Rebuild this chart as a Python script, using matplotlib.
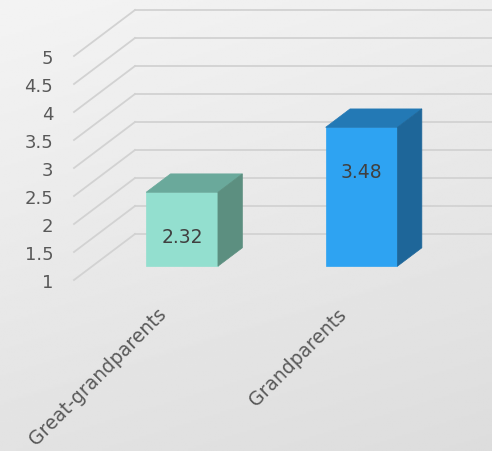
import numpy as np
import matplotlib
matplotlib.use("Agg")
import matplotlib.pyplot as plt
from matplotlib.patches import Polygon

categories = ["Great-grandparents", "Grandparents"]
values = [2.32, 3.48]
yticks = [1, 1.5, 2, 2.5, 3, 3.5, 4, 4.5, 5]
ytick_labels = ["1", "1.5", "2", "2.5", "3", "3.5", "4", "4.5", "5"]

front_colors = ["#93dfcf", "#2ea3f2"]
top_colors = ["#6aa99b", "#2379b5"]
side_colors = ["#5c8f80", "#1e6699"]

W, H, DPI = 492, 452, 100
fig = plt.figure(figsize=(W / DPI, H / DPI), dpi=DPI)

# background gradient
bg = fig.add_axes([0, 0, 1, 1], zorder=-10)
yy, xx = np.mgrid[0:1:200j, 0:1:200j]
grad = 0.955 - 0.09 * (0.75 * yy + 0.25 * xx)
bg.imshow(grad, cmap="gray", vmin=0, vmax=1, aspect="auto", extent=[0, 1, 0, 1])
bg.axis("off")

# front plane in pixels
left_px, right_px = 74, 433
top_px, bot_px = 57, 281
ax = fig.add_axes([left_px / W, 1 - bot_px / H, (right_px - left_px) / W, (bot_px - top_px) / H])
ax.patch.set_alpha(0)
xlim = (-0.5, len(categories) - 0.5)
ylim = (1, 5)
ax.set_xlim(*xlim)
ax.set_ylim(*ylim)
for s in ax.spines.values():
    s.set_visible(False)

# depth offsets in data units
DX = 61 * (xlim[1] - xlim[0]) / (right_px - left_px)
DY = 46 * (ylim[1] - ylim[0]) / (bot_px - top_px)

grid_c = "#d2d2d2"
for v in yticks:
    ax.plot([xlim[0], xlim[0] + DX], [v, v + DY], color=grid_c, lw=1.3, clip_on=False, zorder=1)
    ax.plot([xlim[0] + DX, xlim[1] + DX + 0.2], [v + DY, v + DY], color=grid_c, lw=1.3, clip_on=False, zorder=1)

f0, f1 = 0.3, 0.7
hw = 0.2
for i, v in enumerate(values):
    x0, x1 = i - hw, i + hw
    b = ylim[0]
    o0x, o0y = f0 * DX, f0 * DY
    o1x, o1y = f1 * DX, f1 * DY
    front = Polygon([(x0 + o0x, b + o0y), (x1 + o0x, b + o0y), (x1 + o0x, v + o0y), (x0 + o0x, v + o0y)],
                    closed=True, fc=front_colors[i], ec=front_colors[i], lw=0.5, zorder=3, clip_on=False)
    top = Polygon([(x0 + o0x, v + o0y), (x1 + o0x, v + o0y), (x1 + o1x, v + o1y), (x0 + o1x, v + o1y)],
                  closed=True, fc=top_colors[i], ec=top_colors[i], lw=0.5, zorder=3, clip_on=False)
    side = Polygon([(x1 + o0x, b + o0y), (x1 + o1x, b + o1y), (x1 + o1x, v + o1y), (x1 + o0x, v + o0y)],
                   closed=True, fc=side_colors[i], ec=side_colors[i], lw=0.5, zorder=3, clip_on=False)
    for p in (front, top, side):
        ax.add_patch(p)
    ax.annotate(f"{v:.2f}", xy=(i + o0x, v + o0y), xytext=(0, -44 * 72 / DPI),
                textcoords="offset points", ha="center", va="center",
                fontsize=13.5, color="#404040", zorder=5)

ax.set_yticks(yticks)
ax.set_yticklabels(ytick_labels)
ax.set_xticks(range(len(categories)))
ax.set_xticklabels(categories, rotation=45, ha="right", va="center", rotation_mode="anchor")
ax.tick_params(axis="y", length=0, pad=15, labelsize=13, labelcolor="#595959")
ax.tick_params(axis="x", length=0, pad=22, labelsize=13.5, labelcolor="#595959")
for lbl in ax.get_xticklabels():
    lbl.set_x(lbl.get_position()[0])

fig.savefig("out.png", dpi=DPI)
